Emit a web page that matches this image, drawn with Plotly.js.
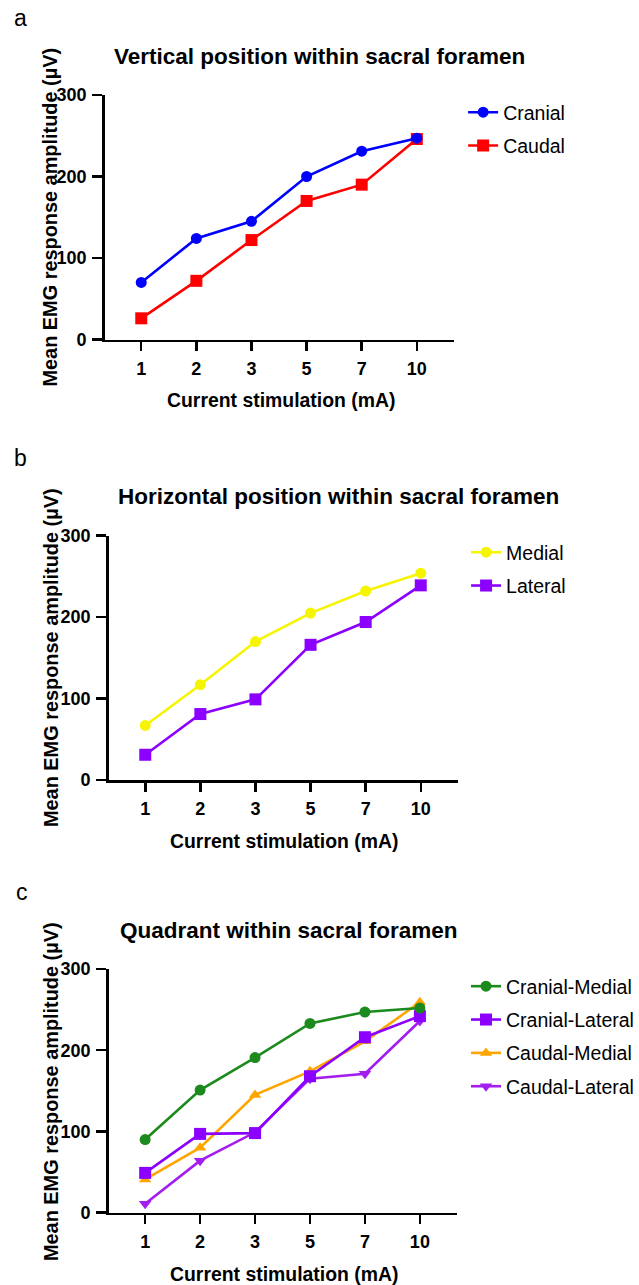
<!DOCTYPE html>
<html>
<head>
<meta charset="utf-8">
<script src="https://cdn.plot.ly/plotly-3.0.1.min.js"></script>
<style>html,body{margin:0;padding:0;background:#fff;}#chart{width:639px;height:1285px;}</style>
</head>
<body>
<div id="chart"></div>
<script>
// ---- data ----
const currents = ["1", "2", "3", "5", "7", "10"];
const cranial = [70, 124, 145, 200, 231, 247];
const caudal = [26, 72, 122, 170, 190, 246];
const medial = [67, 117, 170, 205, 232, 254];
const lateral = [31, 81, 99, 166, 194, 239];
const cranialMedial = [90, 151, 191, 233, 247, 252];
const cranialLateral = [49, 97, 98, 168, 216, 242];
const caudalMedial = [41, 80, 145, 174, 211, 259];
const caudalLateral = [11, 64, 99, 165, 171, 236];
const yTicks = [0, 100, 200, 300];
const panelTitles = ["Vertical position within sacral foramen", "Horizontal position within sacral foramen", "Quadrant within sacral foramen"];
const panelLetters = ["a", "b", "c"];
const xTitle = "Current stimulation (mA)";
const yTitle = "Mean EMG response amplitude (µV)";

// ---- layout helpers ----
const W = 639, H = 1285;
const px = x => x / W;
const py = y => 1 - y / H;
const FONT = "Liberation Sans, Arial, sans-serif";

function trace(name, y, color, symbol, size, ax, leg, rank) {
  return {
    type: "scatter", mode: "lines+markers", name: name, x: currents, y: y,
    xaxis: "x" + ax, yaxis: "y" + ax, legend: leg, legendgroup: name, legendrank: rank,
    line: {color: color, width: 2.6},
    marker: {color: color, symbol: symbol, size: size},
    cliponaxis: false
  };
}

// drawn bottom-to-top; legendrank gives the legend order
const data = [
  trace("Caudal", caudal, "#ff0000", "square", 12, "", "legend", 2),
  trace("Cranial", cranial, "#0000ff", "circle", 11, "", "legend", 1),
  trace("Lateral", lateral, "#8b00ff", "square", 12, "2", "legend2", 2),
  trace("Medial", medial, "#f5f500", "circle", 11, "2", "legend2", 1),
  trace("Caudal-Lateral", caudalLateral, "#a31df0", "triangle-down", 11, "3", "legend3", 4),
  trace("Caudal-Medial", caudalMedial, "#ffa500", "triangle-up", 11, "3", "legend3", 3),
  trace("Cranial-Lateral", cranialLateral, "#8b00ff", "square", 12, "3", "legend3", 2),
  trace("Cranial-Medial", cranialMedial, "#1c8a1c", "circle", 11, "3", "legend3", 1)
];

// panel pixel boxes: [left, right, top, bottom]
const boxes = [[106.6, 463, 95, 339.5], [110.7, 467, 535.7, 780], [110.7, 466, 969, 1212.7]];

function xaxis(b, anchor) {
  return {
    domain: [px(b[0]), px(b[1])], anchor: anchor, type: "category",
    range: [-0.665, 5.68], showgrid: false, zeroline: false,
    showline: true, linecolor: "#000", linewidth: 2.5,
    ticks: "outside", ticklen: 9, tickwidth: 2.5, tickcolor: "#000",
    ticklabelstandoff: 2,
    tickfont: {family: FONT, size: 18, color: "#000", weight: "bold"},
    fixedrange: true
  };
}
function yaxis(b, anchor) {
  return {
    domain: [py(b[3]), py(b[2])], anchor: anchor, range: [0, 300],
    tickvals: yTicks, showgrid: false, zeroline: false,
    showline: true, linecolor: "#000", linewidth: 2.5,
    ticks: "outside", ticklen: 10, tickwidth: 2.5, tickcolor: "#000",
    ticklabelstandoff: 2,
    tickfont: {family: FONT, size: 18, color: "#000", weight: "bold"},
    fixedrange: true
  };
}

function legend(x, yTop) {
  return {
    x: px(x), y: py(yTop), xanchor: "left", yanchor: "top",
    font: {family: FONT, size: 19.5, color: "#000"},
    bgcolor: "rgba(0,0,0,0)", traceorder: "grouped",
    itemwidth: 30, tracegroupgap: 5
  };
}

const annotations = [];
const titleCenters = [[326, 57], [345, 497], [295, 930]];
const letterPos = [[21, 18], [21, 458], [22, 892]];
const xTitlePos = [[286, 400], [289, 841], [289, 1274]];
const yTitlePos = [[50, 217.5], [52, 658], [52, 1092]];
for (let i = 0; i < 3; i++) {
  annotations.push({xref: "paper", yref: "paper", x: px(titleCenters[i][0]), y: py(titleCenters[i][1]),
    xanchor: "center", yanchor: "middle", showarrow: false, text: panelTitles[i],
    font: {family: FONT, size: 22.5, color: "#000", weight: "bold"}});
  annotations.push({xref: "paper", yref: "paper", x: px(letterPos[i][0]), y: py(letterPos[i][1]),
    xanchor: "center", yanchor: "middle", showarrow: false, text: panelLetters[i],
    font: {family: FONT, size: 23, color: "#000"}});
  annotations.push({xref: "paper", yref: "paper", x: px(xTitlePos[i][0]), y: py(xTitlePos[i][1]),
    xanchor: "center", yanchor: "middle", showarrow: false, text: xTitle,
    font: {family: FONT, size: 19.4, color: "#000", weight: "bold"}});
  annotations.push({xref: "paper", yref: "paper", x: px(yTitlePos[i][0]), y: py(yTitlePos[i][1]),
    xanchor: "center", yanchor: "middle", showarrow: false, text: yTitle, textangle: -90,
    font: {family: FONT, size: 19.9, color: "#000", weight: "bold"}});
}

const layout = {
  width: W, height: H, margin: {l: 0, r: 0, t: 0, b: 0},
  paper_bgcolor: "#fff", plot_bgcolor: "#fff", showlegend: true,
  xaxis: xaxis(boxes[0], "y"), yaxis: yaxis(boxes[0], "x"),
  xaxis2: xaxis(boxes[1], "y2"), yaxis2: yaxis(boxes[1], "x2"),
  xaxis3: xaxis(boxes[2], "y3"), yaxis3: yaxis(boxes[2], "x3"),
  legend: legend(472, 93),
  legend2: legend(475, 533),
  legend3: legend(475, 967),
  annotations: annotations
};

Plotly.newPlot("chart", data, layout, {displayModeBar: false, staticPlot: true});
</script>
</body>
</html>
